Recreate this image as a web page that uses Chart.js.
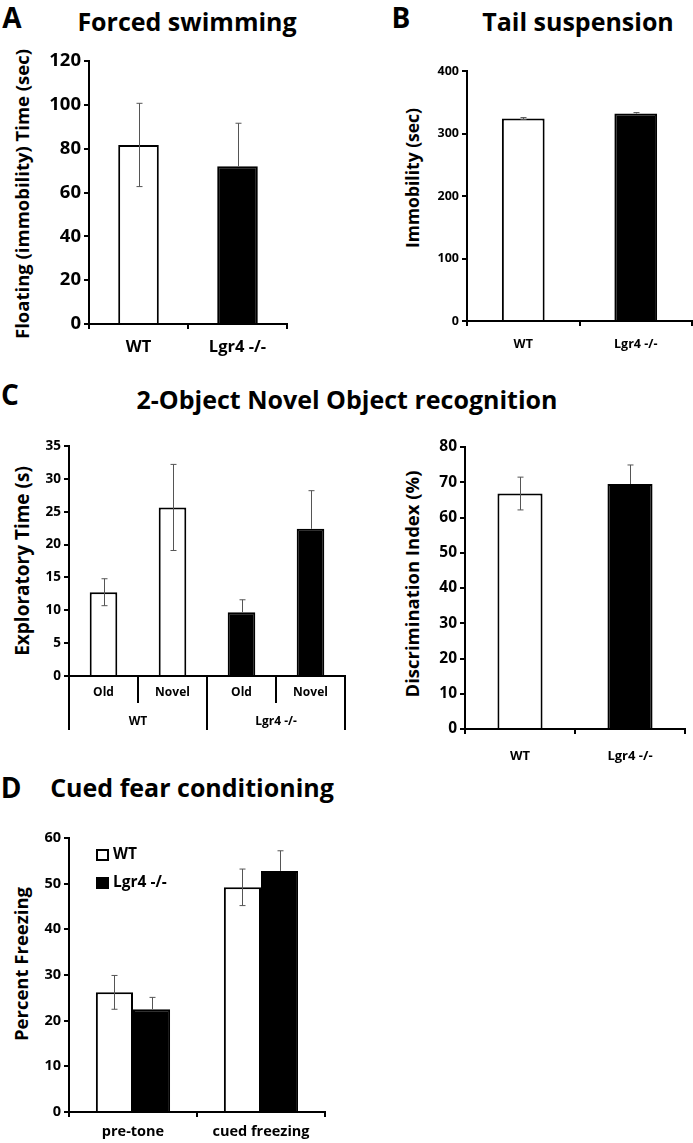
<!DOCTYPE html>
<html><head><meta charset="utf-8">
<script src="https://cdn.jsdelivr.net/npm/chart.js@4/dist/chart.umd.min.js"></script>
<style>
body{margin:0;background:#fff;}
#fig{position:relative;width:693px;height:1143px;overflow:hidden;font-family:'Open Sans',sans-serif;font-weight:700;color:#000}
canvas{position:absolute}
.t{position:absolute;white-space:nowrap;transform:translate(-50%,-50%);line-height:1}
.v{position:absolute;white-space:nowrap;transform:translate(-50%,-50%) rotate(-90deg);line-height:1}
</style></head>
<body><div id="fig">
<div class="t" style="left:12px;top:17px;font-size:28px">A</div>
<div class="t" style="left:187px;top:21px;font-size:25px">Forced swimming</div>
<div class="t" style="left:401px;top:17px;font-size:28px">B</div>
<div class="t" style="left:578px;top:21px;font-size:25px">Tail suspension</div>
<div class="t" style="left:10px;top:394px;font-size:28px">C</div>
<div class="t" style="left:347px;top:399px;font-size:25px">2-Object Novel Object recognition</div>
<div class="t" style="left:11px;top:787px;font-size:28px">D</div>
<div class="t" style="left:192px;top:787px;font-size:25px">Cued fear conditioning</div>
<div class="v" style="left:22px;top:194px;font-size:18.5px">Floating (immobility) Time (sec)</div>
<div class="v" style="left:413px;top:178px;font-size:17.5px">Immobility (sec)</div>
<div class="v" style="left:22px;top:561px;font-size:19px">Exploratory Time (s)</div>
<div class="v" style="left:412px;top:584px;font-size:18.5px">Discrimination Index (%)</div>
<div class="v" style="left:21px;top:964px;font-size:18.5px">Percent Freezing</div>
<canvas id="cA" width="300" height="330" style="left:0;top:40px"></canvas>
<canvas id="cB" width="343" height="330" style="left:350px;top:40px"></canvas>
<canvas id="cC1" width="350" height="320" style="left:0;top:420px"></canvas>
<canvas id="cC2" width="343" height="350" style="left:350px;top:420px"></canvas>
<canvas id="cD" width="350" height="343" style="left:0;top:800px"></canvas>
</div>
<script>
// ---- data ----
const genotypes = ['WT', 'Lgr4 -/-'];
const swimMeans = [81.7, 72.0];
const swimErrors = [19.0, 19.6];
const tailMeans = [324, 332];
const tailErrors = [1.5, 1.5];
const objectSubLabels = ['Old', 'Novel', 'Old', 'Novel'];
const objectGroupLabels = ['WT', 'Lgr4 -/-'];
const objectMeans = [12.75, 25.65, 9.7, 22.4];
const objectErrors = [2.05, 6.55, 1.9, 5.8];
const discMeans = [66.8, 69.5];
const discErrors = [4.65, 5.4];
const fearCategories = ['pre-tone', 'cued freezing'];
const fearWT = [26.2, 49.2];
const fearWTErr = [3.7, 4.0];
const fearKO = [22.5, 52.8];
const fearKOErr = [2.6, 4.4];

const FONT = 'Open Sans';
const WHITE = '#ffffff', BLACK = '#000000';

const errorBarPlugin = {
  id: 'errorBars',
  afterDatasetsDraw(chart) {
    const ctx = chart.ctx, y = chart.scales.y;
    chart.data.datasets.forEach((ds, di) => {
      if (!ds.errors) return;
      const meta = chart.getDatasetMeta(di);
      meta.data.forEach((bar, i) => {
        const v = ds.data[i], e = ds.errors[i];
        const mode = Array.isArray(ds.errorMode) ? ds.errorMode[i] : ds.errorMode;
        const x = Math.round(bar.x) + 0.5;
        const yTop = y.getPixelForValue(v + e);
        const yBot = mode === 'plus' ? y.getPixelForValue(v) : y.getPixelForValue(v - e);
        ctx.save();
        ctx.strokeStyle = '#555';
        ctx.lineWidth = 1;
        ctx.beginPath();
        ctx.moveTo(x, yTop); ctx.lineTo(x, yBot);
        ctx.moveTo(x - 3, yTop); ctx.lineTo(x + 3, yTop);
        if (mode !== 'plus') { ctx.moveTo(x - 3, yBot); ctx.lineTo(x + 3, yBot); }
        ctx.stroke();
        ctx.restore();
      });
    });
  }
};

function makeChart(id, cfg) {
  return new Chart(document.getElementById(id), {
    type: 'bar',
    data: { labels: cfg.labels, datasets: cfg.datasets },
    options: {
      responsive: false, animation: false, devicePixelRatio: 1,
      layout: { padding: cfg.padding },
      plugins: { legend: { display: false }, tooltip: { enabled: false } },
      scales: {
        x: {
          grid: { display: true, drawOnChartArea: false, drawTicks: cfg.xTicks !== false, tickLength: 5, color: BLACK, lineWidth: 2, offset: true },
          border: { display: true, color: BLACK, width: 2 },
          ticks: { display: cfg.xTicks !== false, color: BLACK, font: { family: FONT, weight: 'bold', size: cfg.xFont }, padding: cfg.xPad, maxRotation: 0, autoSkip: false },
          afterFit: s => { s.height = cfg.xHeight; s.paddingLeft = 0; s.paddingRight = 0; }
        },
        y: {
          min: 0, max: cfg.yMax,
          ticks: { stepSize: cfg.step, color: BLACK, font: { family: FONT, weight: 'bold', size: cfg.yFont }, padding: 3 },
          grid: { drawOnChartArea: false, tickLength: 5, color: BLACK, lineWidth: 2 },
          border: { display: true, color: BLACK, width: 2 },
          afterFit: s => { s.width = cfg.yWidth; s.paddingTop = 0; s.paddingBottom = 0; }
        }
      }
    },
    plugins: [errorBarPlugin].concat(cfg.plugins || [])
  });
}

function barSet(label, data, errors, colors, mode, bp, cp) {
  return {
    label, data, errors, errorMode: mode,
    backgroundColor: colors, borderColor: BLACK, borderWidth: 2,
    barPercentage: bp, categoryPercentage: cp
  };
}

// A
makeChart('cA', {
  labels: genotypes,
  datasets: [barSet('Forced swimming', swimMeans, swimErrors, [WHITE, BLACK], ['both', 'plus'], 0.41, 1)],
  padding: { top: 21, right: 13, left: 0, bottom: 0 },
  yWidth: 89, xHeight: 46, yMax: 120, step: 20, yFont: 18.5, xFont: 16.5, xPad: 8
});

// B
makeChart('cB', {
  labels: genotypes,
  datasets: [barSet('Tail suspension', tailMeans, tailErrors, [WHITE, BLACK], ['both', 'plus'], 0.38, 1)],
  padding: { top: 31, right: 1, left: 0, bottom: 0 },
  yWidth: 117, xHeight: 49, yMax: 400, step: 100, yFont: 12.5, xFont: 12.5, xPad: 11
});

// C left (grouped category table)
const tablePlugin = {
  id: 'groupTable',
  afterDraw(chart) {
    const ctx = chart.ctx, xs = chart.scales.x, a = chart.chartArea;
    const labels = chart.data.labels;
    const n = labels.length;
    const half = (xs.getPixelForValue(1) - xs.getPixelForValue(0)) / 2;
    const per = n / objectGroupLabels.length;
    ctx.save();
    ctx.strokeStyle = BLACK; ctx.lineWidth = 2;
    for (let i = 0; i <= n; i++) {
      const bx = Math.round(i < n ? xs.getPixelForValue(i) - half : xs.getPixelForValue(n - 1) + half);
      const len = (i % per === 0) ? 54 : 27;
      ctx.beginPath(); ctx.moveTo(bx, a.bottom); ctx.lineTo(bx, a.bottom + len); ctx.stroke();
    }
    ctx.fillStyle = BLACK; ctx.textAlign = 'center'; ctx.textBaseline = 'middle';
    ctx.font = 'bold 12px "' + FONT + '"';
    labels.forEach((l, i) => ctx.fillText(l, xs.getPixelForValue(i), a.bottom + 17));
    objectGroupLabels.forEach((g, gi) => {
      const cx = (xs.getPixelForValue(gi * per) + xs.getPixelForValue(gi * per + per - 1)) / 2;
      ctx.fillText(g, cx, a.bottom + 46);
    });
    ctx.restore();
  }
};
makeChart('cC1', {
  labels: objectSubLabels,
  datasets: [barSet('Exploratory time', objectMeans, objectErrors, [WHITE, WHITE, BLACK, BLACK], ['both', 'both', 'plus', 'plus'], 0.4, 1)],
  padding: { top: 26, right: 5, left: 0, bottom: 0 },
  yWidth: 69, xHeight: 64, yMax: 35, step: 5, yFont: 13.5, xTicks: false, xFont: 12, xPad: 0,
  plugins: [tablePlugin]
});

// C right
makeChart('cC2', {
  labels: genotypes,
  datasets: [barSet('Discrimination index', discMeans, discErrors, [WHITE, BLACK], ['both', 'plus'], 0.41, 1)],
  padding: { top: 27, right: 8, left: 0, bottom: 0 },
  yWidth: 115, xHeight: 41, yMax: 80, step: 10, yFont: 15.5, xFont: 13, xPad: 14
});

// D
const legendPlugin = {
  id: 'boxLegend',
  afterDraw(chart) {
    const ctx = chart.ctx, a = chart.chartArea;
    ctx.save();
    chart.data.datasets.forEach((ds, i) => {
      const cy = a.top + 17 + i * 28;
      const x = a.left + 28;
      ctx.fillStyle = ds.backgroundColor;
      ctx.fillRect(x, cy - 5, 11, 10);
      ctx.strokeStyle = BLACK; ctx.lineWidth = 2;
      ctx.strokeRect(x, cy - 5, 11, 10);
      ctx.fillStyle = BLACK;
      ctx.font = 'bold 15.5px "' + FONT + '"';
      ctx.textBaseline = 'middle'; ctx.textAlign = 'left';
      ctx.fillText(ds.label, x + 16, cy);
    });
    ctx.restore();
  }
};
makeChart('cD', {
  labels: fearCategories,
  datasets: [
    barSet('WT', fearWT, fearWTErr, WHITE, 'both', 1, 0.58),
    barSet('Lgr4 -/-', fearKO, fearKOErr, BLACK, 'plus', 1, 0.58)
  ],
  padding: { top: 38, right: 25, left: 0, bottom: 0 },
  yWidth: 69, xHeight: 31, yMax: 60, step: 10, yFont: 14.5, xFont: 14.5, xPad: 6,
  plugins: [legendPlugin]
});
</script>
</body></html>
